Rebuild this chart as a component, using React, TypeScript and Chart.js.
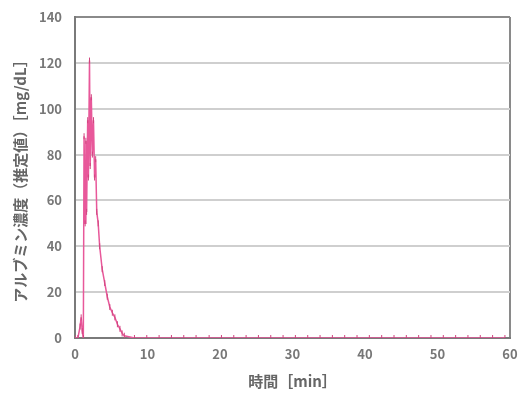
import React, { useEffect, useRef } from "react";
import { Chart, registerables } from "chart.js";

Chart.register(...registerables);

const timeMin = [
  0, 0.4, 0.7, 0.85, 1.0, 1.15, 1.25, 1.4, 1.5, 1.6, 1.75, 1.85, 2.0, 2.1, 2.25, 2.4, 2.55,
  2.7, 2.85, 3.0, 3.2, 3.4, 3.75, 4.1, 4.45, 4.8, 5.15, 5.5, 5.85, 6.2, 6.5, 6.8,
  8.2, 9.9, 11.6, 13.3, 15.0, 16.7, 18.5, 20.2, 21.9, 23.6, 25.3, 27.0, 28.7, 30.4,
  32.1, 33.8, 35.5, 37.2, 38.9, 40.6, 42.3, 44.0, 45.7, 47.4, 49.1, 50.8, 52.5, 54.2,
  55.9, 57.6, 59.3,
];
const albumin = [
  0, 0, 5, 9, 3, 0, 88, 50, 86, 55, 95, 70, 121, 75, 105, 80, 95,
  70, 78, 55, 50, 40, 30, 24, 18, 13.5, 11, 9, 6, 4, 2, 1,
  0, 0, 0, 0, 0, 0, 0, 0, 0, 0, 0, 0, 0, 0,
  0, 0, 0, 0, 0, 0, 0, 0, 0, 0, 0, 0, 0, 0,
  0, 0, 0,
];
const xTitle = "時間［min］";
const yTitle = "アルブミン濃度（推定値）［mg/dL］";

export default function App() {
  const ref = useRef<HTMLCanvasElement>(null);
  useEffect(() => {
    document.body.style.margin = "0";
    const ctx = ref.current!;
    const family = "'Noto Sans CJK JP', 'Noto Sans', sans-serif";
    const tickFont = { family, size: 13, weight: "bold" as const };
    const titleFont = { family, size: 15, weight: "bold" as const };
    const chart = new Chart(ctx, {
      type: "line",
      data: {
        datasets: [
          {
            data: timeMin.map((t, i) => ({ x: t, y: albumin[i] })),
            borderColor: "#e8589a",
            borderWidth: 1.5,
            pointStyle: "line",
            pointRotation: 90,
            pointRadius: 3,
            pointBorderColor: "#d0457f",
            pointBorderWidth: 1,
            tension: 0,
          },
        ],
      },
      options: {
        animation: false,
        responsive: false,
        layout: { padding: { top: 17, right: 9, left: 0, bottom: 0 } },
        plugins: { legend: { display: false }, tooltip: { enabled: false } },
        scales: {
          x: {
            type: "linear",
            min: 0,
            max: 60,
            ticks: { stepSize: 10, color: "#777", font: tickFont, padding: 8 },
            grid: {
              drawTicks: false,
              color: (c: any) => (c.tick && c.tick.value === 60 ? "#8a8a8a" : "rgba(0,0,0,0)"),
              lineWidth: 2,
            },
            border: { color: "#7a7a7a", width: 2 },
            title: { display: true, text: xTitle, color: "#666", font: titleFont, padding: { top: 0, bottom: 3 } },
            afterFit: (s: any) => {
              s.height = 55;
              s.paddingRight = 0;
              s.paddingLeft = 0;
            },
          },
          y: {
            min: 0,
            max: 140,
            ticks: { stepSize: 20, color: "#777", font: tickFont, padding: 13 },
            grid: {
              drawTicks: false,
              color: (c: any) => (c.tick && c.tick.value === 140 ? "#8a8a8a" : "#cfcfcf"),
              lineWidth: 2,
            },
            border: { color: "#7a7a7a", width: 2 },
            title: { display: true, text: yTitle, color: "#666", font: titleFont, padding: { top: 11, bottom: 0 } },
            afterFit: (s: any) => {
              s.width = 75;
              s.paddingTop = 0;
              s.paddingBottom = 0;
            },
          },
        },
      },
    });
    return () => chart.destroy();
  }, []);
  return (
    <div style={{ position: "absolute", left: 0, top: 0, width: 519, height: 393, background: "#fff" }}>
      <canvas ref={ref} width={519} height={393} />
    </div>
  );
}
